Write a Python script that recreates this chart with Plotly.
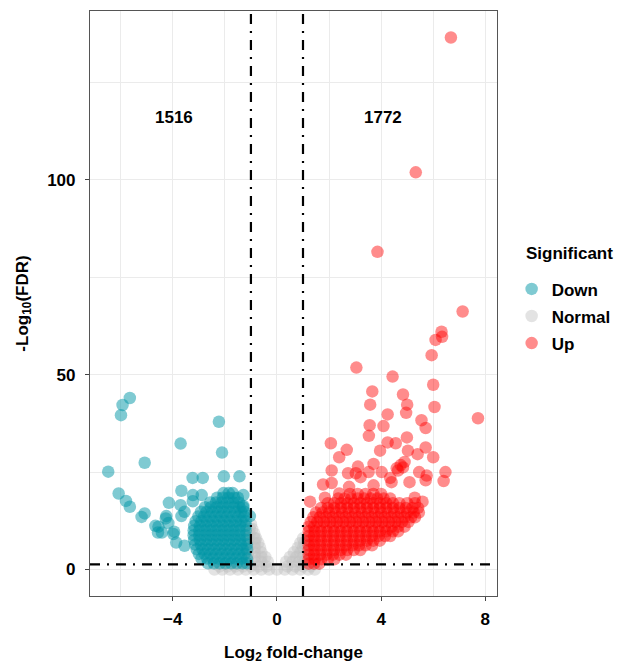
import plotly.graph_objects as go

# ---------------- thresholds ----------------
FC_CUT = 1.0
FDR_CUT = 1.3

# ---------------- DOWN (teal) ----------------
down_out_x = [-5.65, -5.93, -5.99, -2.23, -3.70, -2.11, -5.08, -6.48, -3.24, -2.85,
              -2.04, -1.44, -3.67, -6.08, -5.80, -5.65, -2.89, -1.29, -4.15, -5.08,
              -5.20, -3.70, -4.27, -4.55, -4.57, -3.95, -4.17, -3.23, -3.55, -4.25,
              -4.67, -4.42, -3.98, -3.67, -3.23, -1.29, -1.04, -3.87, -3.55]
down_out_y = [44.0, 42.2, 39.6, 37.9, 32.3, 30.0, 27.4, 25.1, 23.5, 23.5,
              23.9, 23.9, 20.2, 19.5, 17.6, 16.1, 19.1, 19.1, 17.1, 14.4,
              13.5, 16.5, 13.1, 11.0, 9.5, 9.7, 11.9, 19.1, 14.8, 13.7,
              11.2, 9.5, 9.1, 13.7, 17.5, 16.3, 13.7, 6.9, 6.1]

down_rows_y = [1.6, 2.8, 4.0, 5.2, 6.4, 7.6, 8.8, 10.0, 11.2, 12.4, 13.6, 14.8, 16.0, 17.2, 18.4, 19.6]
down_rows_x = [
    [-2.65, -2.42, -2.2, -1.98, -1.76, -1.54, -1.32, -1.15],
    [-2.9, -2.68, -2.46, -2.24, -2.02, -1.8, -1.58, -1.36, -1.15],
    [-3.0, -2.78, -2.56, -2.34, -2.12, -1.9, -1.68, -1.46, -1.24],
    [-3.08, -2.86, -2.64, -2.42, -2.2, -1.98, -1.76, -1.54, -1.32, -1.15],
    [-3.14, -2.92, -2.7, -2.48, -2.26, -2.04, -1.82, -1.6, -1.38, -1.16],
    [-3.18, -2.96, -2.74, -2.52, -2.3, -2.08, -1.86, -1.64, -1.42, -1.2],
    [-3.2, -2.98, -2.76, -2.54, -2.32, -2.1, -1.88, -1.66, -1.44, -1.22],
    [-3.2, -2.98, -2.76, -2.54, -2.32, -2.1, -1.88, -1.66, -1.44, -1.2],
    [-3.18, -2.96, -2.74, -2.52, -2.3, -2.08, -1.86, -1.64, -1.42, -1.2],
    [-3.12, -2.9, -2.68, -2.46, -2.24, -2.02, -1.8, -1.58, -1.36, -1.2],
    [-3.02, -2.8, -2.58, -2.36, -2.14, -1.92, -1.7, -1.48, -1.26],
    [-2.92, -2.7, -2.48, -2.26, -2.04, -1.82, -1.6, -1.38, -1.25],
    [-2.76, -2.54, -2.32, -2.1, -1.88, -1.66, -1.44, -1.3],
    [-2.56, -2.34, -2.12, -1.9, -1.68, -1.46],
    [-2.3, -2.08, -1.86, -1.64, -1.5],
    [-2.05, -1.85, -1.7],
]

# ---------------- UP (red) ----------------
up_out_x = [6.68, 5.33, 3.86, 7.13, 6.32, 6.34, 6.09, 5.94, 3.05, 4.44,
            6.00, 3.66, 4.84, 3.58, 5.00, 6.05, 4.25, 4.96, 7.72, 5.55,
            4.09, 3.56, 5.71, 3.53, 4.99, 4.25, 4.56, 2.07, 2.68, 3.96,
            5.71, 2.39, 5.03, 5.40, 6.00, 3.71, 3.11, 2.10, 2.73, 3.52,
            4.02, 3.21, 4.84, 4.65, 6.47, 6.40, 5.75, 5.71, 5.46, 5.09,
            4.40, 1.77, 2.10, 3.71, 2.77, 1.27, 5.59, 2.39, 1.84, 4.35,
            3.03, 5.29, 4.75, 4.90, 4.60]
up_out_y = [136.5, 101.9, 81.5, 66.2, 61.0, 59.7, 58.9, 55.0, 51.8, 49.5,
            47.4, 45.7, 44.9, 42.3, 42.3, 41.7, 39.8, 40.2, 38.8, 38.3,
            36.8, 37.0, 36.3, 34.3, 33.9, 32.6, 32.4, 32.4, 30.7, 30.5,
            31.3, 28.8, 30.5, 29.6, 28.8, 27.1, 26.4, 25.4, 24.7, 25.0,
            25.0, 23.7, 26.2, 25.4, 25.0, 22.7, 24.1, 22.9, 25.0, 22.4,
            22.4, 21.8, 22.2, 21.6, 21.2, 17.4, 17.4, 19.5, 18.4, 23.5,
            24.7, 18.4, 26.8, 27.6, 26.0]

up_rows_y = [1.5, 2.6, 3.8, 5.0, 6.2, 7.4, 8.6, 9.8, 11.0, 12.2, 13.4, 14.6, 15.8, 17.0, 18.2, 19.4]
up_rows_x = [
    [1.22, 1.42, 1.62],
    [1.22, 1.45, 1.7, 1.95, 2.2],
    [1.22, 1.42, 1.65, 1.9, 2.15, 2.4, 2.65],
    [1.22, 1.45, 1.7, 1.95, 2.2, 2.45, 2.7, 2.95, 3.2],
    [1.22, 1.42, 1.65, 1.9, 2.15, 2.4, 2.65, 2.9, 3.15, 3.4, 3.65],
    [1.22, 1.45, 1.7, 1.95, 2.2, 2.45, 2.7, 2.95, 3.2, 3.45, 3.7, 3.95],
    [1.22, 1.42, 1.65, 1.9, 2.15, 2.4, 2.65, 2.9, 3.15, 3.4, 3.65, 3.9, 4.15, 4.35],
    [1.22, 1.45, 1.7, 1.95, 2.2, 2.45, 2.7, 2.95, 3.2, 3.45, 3.7, 3.95, 4.2, 4.45, 4.65],
    [1.22, 1.42, 1.65, 1.9, 2.15, 2.4, 2.65, 2.9, 3.15, 3.4, 3.65, 3.9, 4.15, 4.4, 4.65, 4.9],
    [1.3, 1.55, 1.8, 2.05, 2.3, 2.55, 2.8, 3.05, 3.3, 3.55, 3.8, 4.05, 4.3, 4.55, 4.8, 5.05],
    [1.4, 1.65, 1.9, 2.15, 2.4, 2.65, 2.9, 3.15, 3.4, 3.65, 3.9, 4.15, 4.4, 4.65, 4.9, 5.15, 5.3],
    [1.5, 1.75, 2.0, 2.25, 2.5, 2.75, 3.0, 3.25, 3.5, 3.75, 4.0, 4.25, 4.5, 4.75, 5.0, 5.25, 5.45],
    [1.7, 1.95, 2.2, 2.45, 2.7, 2.95, 3.2, 3.45, 3.7, 3.95, 4.2, 4.45, 4.7, 4.95, 5.2, 5.42],
    [1.95, 2.2, 2.45, 2.7, 2.95, 3.2, 3.45, 3.7, 3.95, 4.2, 4.45, 4.7, 5.0, 5.3],
    [2.35, 2.6, 2.85, 3.1, 3.35, 3.6, 3.85, 4.1, 4.35],
    [2.8, 3.1, 3.4, 3.7, 4.0],
]

# ---------------- NORMAL (grey) ----------------
normal_rows_y = [0.0, 0.8, 2.0, 3.2, 4.4, 5.6, 6.8, 8.0, 9.2, 10.4, 11.6]
normal_rows_x = [
    [-2.4, -2.1, -1.8, -1.5, -1.2, -0.9, -0.6, -0.3, 0.0, 0.3, 0.6, 0.9, 1.2, 1.45],
    [-2.2, -1.9, -1.6, -1.3, -1.0, -0.7, -0.4, 0.4, 0.7, 1.0, 1.3],
    [-1.1, -0.85, -0.6, -0.35, 0.35, 0.6, 0.85, 1.05],
    [-1.1, -0.85, -0.6, -0.45, 0.5, 0.75, 1.0],
    [-1.1, -0.85, -0.6, 0.65, 0.9],
    [-1.1, -0.85, -0.65, 0.8, 1.0],
    [-1.1, -0.85, -0.72, 0.9, 1.05],
    [-1.1, -0.85, -0.8, 1.0],
    [-1.05, -0.87],
    [-1.05, -0.95],
    [-1.0],
]

labels = ["Down", "Normal", "Up"]
counts = {"Down": "1516", "Up": "1772"}
count_pos_x = [-3.96, 4.09]
count_pos_y = 116

FONT = "Liberation Sans, Arial, sans-serif"


def expand(rows_y, rows_x):
    xs, ys = [], []
    for y, row in zip(rows_y, rows_x):
        for x in row:
            xs.append(x)
            ys.append(y)
    return xs, ys


dn_x, dn_y = expand(down_rows_y, down_rows_x)
dn_x += down_out_x
dn_y += down_out_y
up_x, up_y = expand(up_rows_y, up_rows_x)
up_x += up_out_x
up_y += up_out_y
nm_x, nm_y = expand(normal_rows_y, normal_rows_x)

MS = 12.5
fig = go.Figure()
fig.add_trace(go.Scatter(x=nm_x, y=nm_y, mode="markers", name=labels[1],
                         legendgroup="n", legendrank=2,
                         marker=dict(size=MS, color="rgb(192,192,192)", opacity=0.45, line=dict(width=0))))
fig.add_trace(go.Scatter(x=dn_x, y=dn_y, mode="markers", name=labels[0],
                         legendgroup="d", legendrank=1,
                         marker=dict(size=MS, color="rgb(0,150,166)", opacity=0.5, line=dict(width=0))))
fig.add_trace(go.Scatter(x=up_x, y=up_y, mode="markers", name=labels[2],
                         legendgroup="u", legendrank=3,
                         marker=dict(size=MS, color="rgb(255,0,0)", opacity=0.45, line=dict(width=0))))

DASH = "10px,7px,2px,7px"
for xv in (-FC_CUT, FC_CUT):
    fig.add_shape(type="line", xref="x", yref="paper", x0=xv, x1=xv, y0=0, y1=1,
                  line=dict(color="black", width=2.2, dash=DASH), layer="above")
fig.add_shape(type="line", xref="paper", yref="y", x0=0, x1=1, y0=FDR_CUT, y1=FDR_CUT,
              line=dict(color="black", width=2.2, dash=DASH), layer="above")

bold = dict(family=FONT, size=17, color="black", weight="bold")

fig.add_annotation(x=count_pos_x[0], y=count_pos_y, text=counts["Down"], showarrow=False, font=bold)
fig.add_annotation(x=count_pos_x[1], y=count_pos_y, text=counts["Up"], showarrow=False, font=bold)
fig.add_annotation(xref="paper", yref="paper", x=1.0657, y=0.586, xanchor="left", yanchor="middle",
                   text="Significant", showarrow=False, font=bold)

grid = "#EBEBEB"
axis_common = dict(showline=True, mirror=True, linecolor="#555555", linewidth=1.2,
                   ticks="outside", ticklen=4, tickcolor="#444444", tickwidth=1,
                   showgrid=True, gridcolor=grid, gridwidth=1, zeroline=False,
                   tickfont=bold)

fig.update_layout(
    width=626, height=668,
    margin=dict(l=90, r=120.3, t=10, b=63),
    paper_bgcolor="white", plot_bgcolor="white",
    font=dict(family=FONT, color="black"),
    xaxis=dict(range=[-7.18, 8.45], tickmode="linear", tick0=0, dtick=4,
               minor=dict(tick0=0, dtick=2, showgrid=True, gridcolor=grid, gridwidth=1, ticks=""),
               title=dict(text="Log<sub>2</sub> fold-change", font=bold, standoff=18),
               ticklabelstandoff=3,
               **axis_common),
    yaxis=dict(range=[-6.8, 143.3], tickmode="linear", tick0=0, dtick=50,
               minor=dict(tick0=0, dtick=25, showgrid=True, gridcolor=grid, gridwidth=1, ticks=""),
               title=dict(text="-Log<sub>10</sub>(FDR)", font=bold, standoff=14),
               ticklabelstandoff=6,
               **axis_common),
    legend=dict(x=1.036, y=0.555, xanchor="left", yanchor="top", font=bold,
                traceorder="grouped", tracegroupgap=2, itemsizing="trace",
                bgcolor="rgba(0,0,0,0)", borderwidth=0),
    showlegend=True,
)

fig.write_html("out.html", config={"displayModeBar": False},
               post_script="document.body.style.margin='0';document.body.style.padding='0';"
                           "document.documentElement.style.overflow='hidden';")
